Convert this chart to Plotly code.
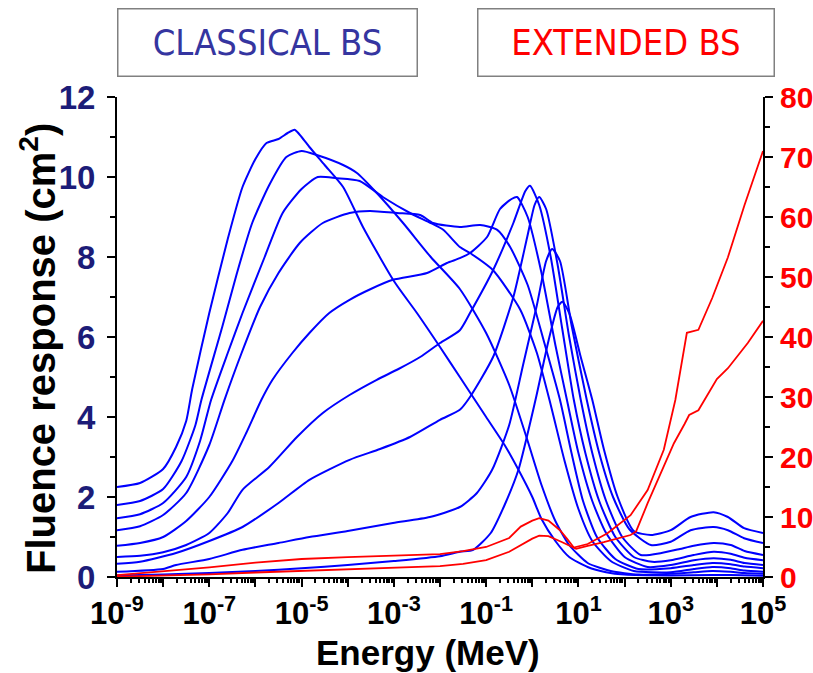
import plotly.graph_objects as go

# ---- data (log10 of energy in MeV, response) ----
# Classical Bonner spheres (left axis, cm^2)
A_x = [-9, -8.5, -8.0, -7.72, -7.5, -7.37, -7.0, -6.6, -6.28, -6.0, -5.76, -5.5, -5.3, -5.15, -5.0, -4.83, -4.5, -4.1, -3.67, -3.0, -2.5, -2.0, -1.57, -1.0, -0.6, -0.3, 0.0, 0.2, 0.5, 0.8, 1.2, 1.6, 2.0, 3.0, 3.9, 4.3, 5.0]
A_y = [2.25, 2.35, 2.7, 3.25, 3.9, 4.7, 6.6, 8.45, 9.75, 10.45, 10.85, 10.95, 11.1, 11.18, 11.0, 10.75, 10.3, 9.75, 8.75, 7.4, 6.6, 5.75, 5.0, 4.0, 3.3, 2.68, 2.0, 1.45, 0.9, 0.5, 0.25, 0.12, 0.06, 0.04, 0.05, 0.05, 0.03]

B_x = [-9, -8.5, -8.0, -7.6, -7.3, -7.17, -6.72, -6.4, -6.07, -5.7, -5.33, -5.0, -4.67, -4.1, -3.8, -3.37, -2.8, -2.2, -1.57, -1.0, -0.5, -0.1, 0.2, 0.5, 0.8, 1.2, 1.7, 2.3, 3.0, 3.5, 3.9, 4.3, 4.6, 5.0]
B_y = [1.8, 1.9, 2.2, 2.9, 3.8, 4.43, 6.25, 7.6, 8.85, 9.8, 10.5, 10.65, 10.55, 10.3, 10.1, 9.6, 8.85, 8.0, 7.2, 6.1, 4.8, 3.4, 2.3, 1.4, 0.8, 0.35, 0.15, 0.06, 0.08, 0.12, 0.15, 0.13, 0.1, 0.08]

C_x = [-9, -8.5, -8.0, -7.5, -7.2, -6.96, -6.6, -6.28, -5.8, -5.41, -5.0, -4.65, -4.24, -3.74, -3.24, -2.65, -2.2, -1.93, -1.57, -1.35, -0.85, -0.26, 0.1, 0.4, 0.7, 1.0, 1.3, 1.7, 2.2, 3.0, 3.5, 3.9, 4.3, 4.6, 5.0]
C_y = [1.47, 1.57, 1.85, 2.5, 3.4, 4.43, 5.6, 6.6, 8.0, 9.1, 9.7, 10.0, 9.97, 9.9, 9.5, 9.1, 8.85, 8.68, 8.25, 8.1, 7.67, 6.68, 5.6, 4.3, 2.9, 1.7, 0.9, 0.4, 0.15, 0.12, 0.2, 0.25, 0.22, 0.16, 0.13]

D_x = [-9, -8.5, -8.0, -7.5, -7.0, -6.67, -6.3, -5.9, -5.5, -5.04, -4.54, -3.96, -3.52, -2.93, -2.43, -2.15, -1.57, -1.13, -0.76, -0.48, -0.1, 0.25, 0.6, 0.85, 1.1, 1.4, 1.8, 2.3, 3.0, 3.5, 3.9, 4.3, 4.6, 5.0]
D_y = [1.17, 1.27, 1.55, 2.1, 3.3, 4.43, 5.6, 6.75, 7.6, 8.35, 8.85, 9.1, 9.15, 9.1, 9.05, 8.85, 8.75, 8.8, 8.68, 8.25, 7.3, 5.9, 4.43, 3.1, 1.9, 1.0, 0.45, 0.2, 0.22, 0.3, 0.35, 0.32, 0.26, 0.22]

E_x = [-9, -8.5, -8.0, -7.5, -7.0, -6.5, -6.2, -5.87, -5.63, -5.2, -4.83, -4.4, -3.96, -3.5, -3.02, -2.28, -1.85, -1.57, -1.35, -0.98, -0.7, -0.45, -0.33, -0.1, 0.2, 0.5, 0.75, 1.0, 1.3, 1.6, 2.0, 2.5, 3.0, 3.5, 3.93, 4.3, 4.6, 5.0]
E_y = [0.78, 0.85, 1.0, 1.4, 2.0, 2.9, 3.6, 4.43, 4.93, 5.6, 6.1, 6.6, 6.93, 7.2, 7.43, 7.6, 7.85, 7.97, 8.1, 8.5, 9.2, 9.45, 9.5, 9.0, 7.6, 5.8, 4.43, 3.1, 1.9, 1.1, 0.5, 0.25, 0.3, 0.42, 0.47, 0.43, 0.35, 0.3]

F_x = [-9, -8.5, -8.0, -7.5, -7.0, -6.6, -6.28, -5.7, -5.1, -4.54, -3.96, -3.37, -2.9, -2.43, -2.0, -1.57, -1.35, -0.85, -0.41, -0.15, -0.05, 0.15, 0.4, 0.65, 0.9, 1.15, 1.45, 1.8, 2.2, 2.6, 3.0, 3.5, 3.93, 4.3, 4.6, 5.0]
F_y = [0.5, 0.53, 0.62, 0.8, 1.1, 1.6, 2.18, 2.75, 3.5, 4.1, 4.55, 4.93, 5.2, 5.5, 5.85, 6.17, 6.6, 7.67, 8.85, 9.65, 9.78, 9.3, 8.0, 6.2, 4.43, 3.1, 1.9, 1.0, 0.5, 0.38, 0.42, 0.55, 0.63, 0.58, 0.48, 0.42]

G_x = [-9, -8.5, -7.72, -7.0, -6.28, -5.5, -4.83, -3.96, -3.3, -2.65, -2.0, -1.57, -1.35, -0.85, -0.41, -0.11, 0.05, 0.15, 0.3, 0.55, 0.8, 1.05, 1.3, 1.6, 1.95, 2.35, 2.8, 3.2, 3.5, 3.93, 4.3, 4.6, 5.0]
G_y = [0.33, 0.38, 0.6, 0.9, 1.25, 1.85, 2.43, 2.93, 3.2, 3.5, 3.93, 4.18, 4.5, 5.5, 7.0, 8.5, 9.3, 9.5, 9.2, 7.8, 6.0, 4.43, 3.1, 1.9, 1.0, 0.55, 0.6, 0.7, 0.78, 0.85, 0.8, 0.65, 0.55]

H_x = [-9, -8.0, -7.72, -7.0, -6.28, -5.5, -4.83, -4.0, -3.02, -2.22, -1.57, -1.2, -0.87, -0.5, -0.2, 0.1, 0.3, 0.43, 0.6, 0.85, 1.18, 1.45, 1.75, 2.1, 2.57, 3.0, 3.43, 3.93, 4.24, 4.59, 5.0]
H_y = [0.13, 0.2, 0.3, 0.45, 0.68, 0.85, 1.0, 1.15, 1.35, 1.5, 1.75, 2.1, 2.68, 3.8, 5.3, 6.8, 7.9, 8.2, 7.9, 6.3, 4.43, 3.1, 2.0, 1.2, 0.8, 0.88, 1.17, 1.25, 1.17, 0.97, 0.85]

I_x = [-9, -8.0, -7.0, -6.0, -5.0, -4.0, -3.0, -2.0, -1.57, -1.28, -0.9, -0.6, -0.3, 0.07, 0.35, 0.55, 0.65, 0.8, 1.05, 1.3, 1.55, 1.85, 2.2, 2.57, 3.0, 3.43, 3.93, 4.24, 4.59, 5.0]
I_y = [0.04, 0.06, 0.1, 0.15, 0.22, 0.3, 0.4, 0.52, 0.63, 0.68, 1.1, 1.8, 2.68, 4.43, 5.9, 6.75, 6.88, 6.6, 5.5, 4.43, 3.2, 2.0, 1.15, 1.05, 1.17, 1.5, 1.62, 1.5, 1.22, 1.1]

# Extended Bonner spheres (right axis, cm^2)
R1_x = [-9, -8, -7, -6, -5, -4, -3, -2, -1.5, -1.0, -0.5, -0.25, 0.0, 0.15, 0.35, 0.6, 0.75, 0.9, 1.2, 1.63, 2.13, 2.5, 2.85, 3.1, 3.35, 3.6, 3.9, 4.24, 4.6, 5.0]
R1_y = [0.3, 0.9, 1.6, 2.4, 3.0, 3.3, 3.5, 3.8, 4.3, 5.0, 6.5, 8.4, 9.4, 9.8, 9.4, 7.8, 6.4, 4.9, 5.5, 7.3, 10.3, 14.5, 21.2, 29.5, 40.7, 41.2, 46.5, 53.3, 62.0, 71.0]

R2_x = [-9, -8, -7, -6, -5, -4, -3, -2, -1.5, -1.0, -0.5, -0.2, 0.0, 0.15, 0.35, 0.65, 0.95, 1.2, 1.55, 2.13, 2.25, 2.5, 2.78, 3.07, 3.3, 3.4, 3.6, 4.0, 4.24, 4.67, 5.0]
R2_y = [0.05, 0.2, 0.45, 0.75, 1.0, 1.25, 1.5, 1.8, 2.2, 2.8, 4.2, 5.6, 6.4, 6.9, 6.8, 5.8, 4.7, 5.2, 5.8, 7.0, 7.6, 12.3, 17.3, 22.3, 25.5, 27.0, 27.8, 33.0, 34.8, 39.0, 42.7]

classical = [(A_x, A_y), (B_x, B_y), (C_x, C_y), (D_x, D_y), (E_x, E_y),
             (F_x, F_y), (G_x, G_y), (H_x, H_y), (I_x, I_y)]
extended = [(R1_x, R1_y), (R2_x, R2_y)]

decades = list(range(-9, 6))
x_ticktext = [f"10<sup>{d}</sup>" if d % 2 != 0 else "" for d in decades]

# ---- figure ----
fig = go.Figure()
for xs, ys in classical:
    fig.add_trace(go.Scatter(x=[10 ** v for v in xs], y=ys, mode="lines",
                             line=dict(color="#0000ff", width=2, shape="spline", smoothing=0.6),
                             showlegend=False, hoverinfo="skip"))
for xs, ys in extended:
    fig.add_trace(go.Scatter(x=[10 ** v for v in xs], y=ys, mode="lines", yaxis="y2",
                             line=dict(color="#ff0000", width=1.8),
                             showlegend=False, hoverinfo="skip"))

major_x = [10.0 ** d for d in decades]
minor_x = [k * 10.0 ** d for d in decades[:-1] for k in range(2, 10)]

bold = "Liberation Sans, Arial, sans-serif"
fig.update_layout(
    width=813, height=673,
    margin=dict(l=117, r=50, t=97, b=96),
    paper_bgcolor="white", plot_bgcolor="white",
    xaxis=dict(type="log", range=[-9, 5], showgrid=False, zeroline=False, automargin=False,
               showline=True, linecolor="black", linewidth=2,
               tickmode="array", tickvals=major_x, ticktext=x_ticktext,
               ticks="outside", ticklen=8, tickwidth=2, tickcolor="black",
               minor=dict(tickmode="array", tickvals=minor_x, ticks="outside",
                          ticklen=4, tickwidth=1.5, tickcolor="black", showgrid=False),
               tickfont=dict(family=bold, size=31, color="black", weight="bold")),
    yaxis=dict(range=[0, 12], showgrid=False, zeroline=False, automargin=False,
               showline=True, linecolor="black", linewidth=2,
               tickmode="linear", tick0=0, dtick=2,
               ticks="outside", ticklen=8, tickwidth=2, tickcolor="black",
               ticklabelstandoff=5,
               minor=dict(dtick=1, ticks="outside", ticklen=5, tickwidth=1.5,
                          tickcolor="black", showgrid=False),
               tickfont=dict(family=bold, size=33, color="#1c1c78", weight="bold")),
    yaxis2=dict(range=[0, 80], overlaying="y", side="right", showgrid=False, automargin=False,
                zeroline=False, showline=True, linecolor="black", linewidth=2,
                tickmode="linear", tick0=0, dtick=10,
                ticks="outside", ticklen=8, tickwidth=2, tickcolor="black",
                ticklabelstandoff=1,
                minor=dict(dtick=5, ticks="outside", ticklen=5, tickwidth=1.5,
                           tickcolor="black", showgrid=False),
                tickfont=dict(family=bold, size=30, color="#ff0000", weight="bold")),
)

# axis titles
fig.add_annotation(xref="paper", yref="paper", x=0.4814, y=-0.1583,
                   xanchor="center", yanchor="middle", showarrow=False,
                   text="Energy (MeV)",
                   font=dict(family=bold, size=35, color="black", weight="bold"))
fig.add_annotation(xref="paper", yref="paper", x=-0.1223, y=0.477,
                   xanchor="center", yanchor="middle", showarrow=False, textangle=-90,
                   text="Fluence response (cm<sup>2</sup>)",
                   font=dict(family=bold, size=40, color="black", weight="bold"))

# series labels in boxes
narrow = "Liberation Sans Narrow, DejaVu Sans Condensed, Arial Narrow, sans-serif"
fig.add_annotation(xref="paper", yref="paper", x=0.233, y=1.1135,
                   xanchor="center", yanchor="middle", showarrow=False,
                   text="CLASSICAL BS", width=298, height=66,
                   bordercolor="#808080", borderwidth=1.5, borderpad=0,
                   font=dict(family=narrow, size=36, color="#3535a0"))
fig.add_annotation(xref="paper", yref="paper", x=0.788, y=1.1135,
                   xanchor="center", yanchor="middle", showarrow=False,
                   text="EXTENDED BS", width=295, height=66,
                   bordercolor="#808080", borderwidth=1.5, borderpad=0,
                   font=dict(family=narrow, size=36, color="#ff0000"))

fig.write_html("out.html", config={"displayModeBar": False},
               post_script="document.body.style.margin='0';document.body.style.overflow='hidden';")
